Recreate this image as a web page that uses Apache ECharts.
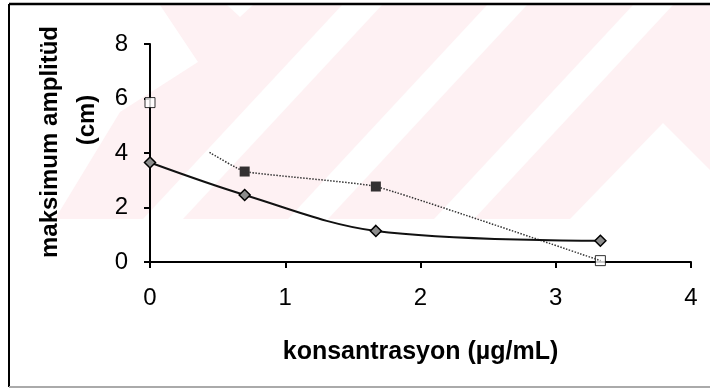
<!DOCTYPE html>
<html>
<head>
<meta charset="utf-8">
<script src="https://cdn.jsdelivr.net/npm/echarts@6/dist/echarts.min.js"></script>
<style>
html, body { margin: 0; padding: 0; background: #fff; }
#chart { width: 710px; height: 391px; }
</style>
</head>
<body>
<div id="chart"></div>
<script>
// axis ticks
const xTicks = [0, 1, 2, 3, 4]
const yTicks = [0, 2, 4, 6, 8]

// diamond series (solid line)
const diamondX = [0, 0.7, 1.67, 3.33]
const diamondY = [3.65, 2.46, 1.14, 0.78]

// filled squares
const filledX = [0.7, 1.67]
const filledY = [3.32, 2.77]

// open squares
const openX = [0, 3.33]
const openY = [5.85, 0.05]

// dotted line as drawn (starts near x = 0.44)
const dottedX = [0.44, 0.7, 1.67, 3.33]
const dottedY = [4.02, 3.32, 2.77, 0.05]

const zip = (xs, ys) => xs.map((x, i) => [x, ys[i]])

const pink = '#fef1f3'
// faint watermark stripes behind the plot
const stripes = [
    [[160, 5], [227, 5], [240, 17], [253, 5], [342, 5], [143, 219], [55, 219], [120, 112], [198, 62]],
    [[382, 5], [487, 5], [288, 219], [183, 219]],
    [[527, 5], [633, 5], [434, 219], [328, 219]],
    [[673, 5], [710, 5], [710, 170], [663, 123], [570, 219], [474, 219]]
]

const chart = echarts.init(document.getElementById('chart'))
const axisFont = '"Liberation Sans", Arial, sans-serif'

const option = {
    backgroundColor: '#fff',
    animation: false,
    grid: { left: 150, right: 19, top: 44, bottom: 129, outerBoundsMode: 'none' },
    xAxis: {
        type: 'value',
        min: xTicks[0],
        max: xTicks[xTicks.length - 1],
        interval: 1,
        name: 'konsantrasyon (µg/mL)',
        nameLocation: 'middle',
        nameGap: 78,
        nameTextStyle: { color: '#000', fontSize: 25, fontWeight: 'bold', fontFamily: axisFont },
        axisLine: { show: true, onZero: false, lineStyle: { color: '#000', width: 2 } },
        axisTick: { show: true, length: 6, lineStyle: { color: '#000', width: 2 } },
        axisLabel: { color: '#000', fontSize: 24, margin: 24, fontFamily: axisFont },
        splitLine: { show: false }
    },
    yAxis: {
        type: 'value',
        min: yTicks[0],
        max: yTicks[yTicks.length - 1],
        interval: 2,
        axisLine: { show: true, onZero: false, lineStyle: { color: '#000', width: 2 } },
        axisTick: { show: true, length: 6, lineStyle: { color: '#000', width: 2 } },
        axisLabel: { color: '#000', fontSize: 24, margin: 22, fontFamily: axisFont },
        splitLine: { show: false }
    },
    graphic: [
        ...stripes.map(pts => ({
            type: 'polygon', z: -10, silent: true,
            shape: { points: pts },
            style: { fill: pink }
        })),
        { type: 'line', z: 10, shape: { x1: 9, y1: 4, x2: 711, y2: 4 }, style: { stroke: '#000', lineWidth: 2.5 } },
        { type: 'line', z: 10, shape: { x1: 9, y1: 4, x2: 9, y2: 387 }, style: { stroke: '#000', lineWidth: 2 } },
        { type: 'line', z: 10, shape: { x1: 9, y1: 387, x2: 711, y2: 387 }, style: { stroke: '#aaa', lineWidth: 2 } },
        {
            type: 'text', x: 50, y: 142, rotation: Math.PI / 2,
            style: { text: 'maksimum amplitüd', fill: '#000', font: 'bold 24px ' + axisFont, align: 'center', verticalAlign: 'middle' }
        },
        {
            type: 'text', x: 87, y: 120, rotation: Math.PI / 2,
            style: { text: '(cm)', fill: '#000', font: 'bold 24px ' + axisFont, align: 'center', verticalAlign: 'middle' }
        }
    ],
    series: [
        {
            type: 'line',
            data: zip(dottedX, dottedY),
            smooth: 0.12,
            symbol: 'none',
            clip: false,
            lineStyle: { color: '#333', width: 1.5, type: 'dotted' }
        },
        {
            type: 'line',
            data: zip(diamondX, diamondY),
            smooth: 0.35,
            symbol: 'diamond',
            symbolSize: 11,
            clip: false,
            itemStyle: { color: '#8c8c8c', borderColor: '#000', borderWidth: 1.5 },
            lineStyle: { color: '#111', width: 2 }
        },
        {
            type: 'scatter',
            data: zip(filledX, filledY),
            symbol: 'rect',
            symbolSize: 10,
            clip: false,
            itemStyle: { color: '#000' }
        },
        {
            type: 'scatter',
            data: zip(openX, openY),
            symbol: 'rect',
            symbolSize: 10,
            clip: false,
            itemStyle: { color: '#fff', borderColor: '#000', borderWidth: 1 }
        }
    ]
}
chart.setOption(option)
</script>
</body>
</html>
